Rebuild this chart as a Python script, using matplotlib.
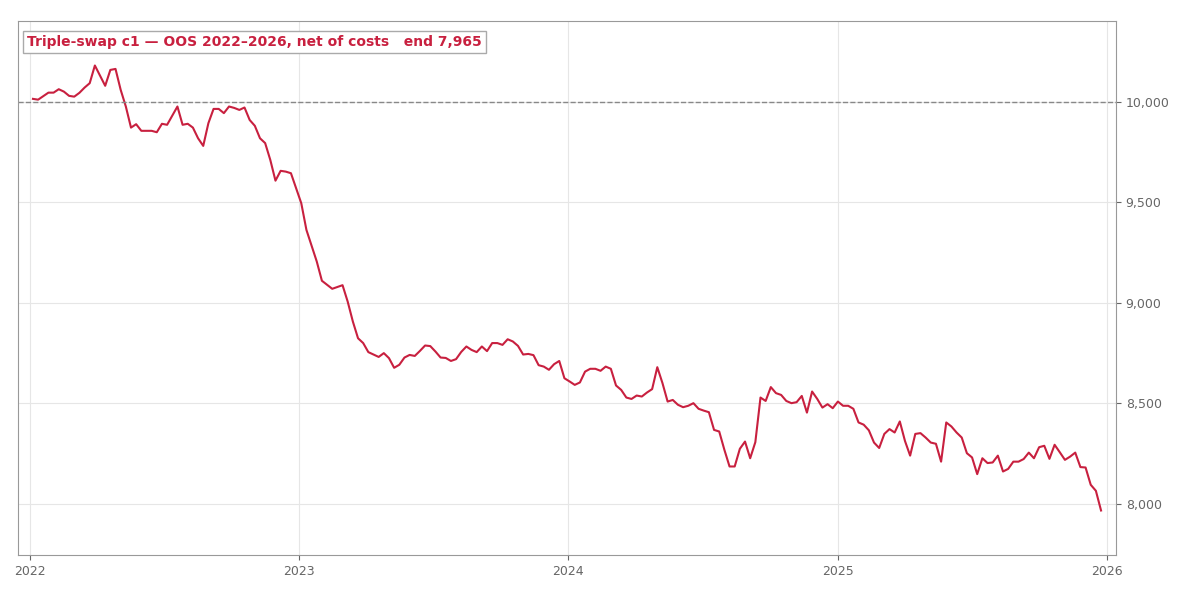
import numpy as np
import pandas as pd
import matplotlib
matplotlib.use('Agg')
import matplotlib.pyplot as plt
import matplotlib.ticker as mticker

# weekly series, weeks counted from the first OOS point
start = pd.Timestamp("2022-01-05")
week = [0, 1, 3, 4, 5, 6, 7, 8, 9, 10, 11, 12, 14, 15, 16, 17, 18, 19, 20, 21,
        23, 24, 25, 26, 28, 29, 30, 31, 32, 33, 34, 35, 36, 37, 38, 39, 40, 41, 42, 43,
        44, 45, 46, 47, 48, 49, 50, 52, 53, 55, 56, 58, 60, 61, 62, 63, 64, 65, 67, 68,
        69, 70, 71, 72, 73, 74, 75, 76, 77, 78, 79, 80, 81, 82, 83, 84, 85, 86, 87, 88,
        89, 90, 91, 92, 93, 94, 95, 96, 97, 98, 99, 100, 101, 102, 103, 104, 105, 106, 107, 108,
        109, 110, 111, 112, 113, 114, 115, 116, 117, 118, 119, 120, 121, 122, 123, 124, 125, 126, 127, 128,
        129, 130, 131, 132, 133, 134, 135, 136, 137, 138, 139, 140, 141, 142, 143, 144, 145, 146, 147, 148,
        149, 150, 151, 152, 153, 154, 155, 156, 157, 158, 159, 160, 161, 162, 163, 164, 165, 166, 167, 168,
        169, 170, 171, 172, 173, 174, 175, 176, 177, 178, 179, 180, 181, 182, 183, 184, 185, 186, 187, 188,
        189, 190, 191, 192, 193, 194, 195, 196, 197, 198, 199, 200, 201, 202, 203, 204, 205, 206, 207]
equity = [10015, 10011, 10046, 10046, 10063, 10051, 10030, 10026, 10045, 10071, 10093, 10181, 10080, 10159, 10164, 10060, 9977, 9872, 9889, 9856,
          9856, 9849, 9891, 9886, 9977, 9886, 9891, 9872, 9819, 9781, 9894, 9965, 9965, 9944, 9977, 9970, 9960, 9972, 9910, 9881,
          9819, 9795, 9711, 9608, 9657, 9653, 9645, 9496, 9363, 9206, 9110, 9070, 9088, 9006, 8907, 8824, 8800, 8755, 8731, 8750,
          8725, 8677, 8692, 8728, 8741, 8736, 8761, 8788, 8785, 8758, 8728, 8726, 8711, 8720, 8756, 8783, 8766, 8755, 8783, 8760,
          8800, 8800, 8791, 8819, 8808, 8786, 8743, 8746, 8740, 8690, 8683, 8667, 8695, 8711, 8625, 8609, 8592, 8604, 8658, 8672,
          8672, 8662, 8683, 8672, 8589, 8567, 8529, 8522, 8539, 8534, 8554, 8571, 8680, 8601, 8509, 8517, 8493, 8481, 8488, 8501,
          8473, 8464, 8456, 8368, 8360, 8269, 8186, 8186, 8274, 8310, 8227, 8307, 8529, 8512, 8581, 8551, 8542, 8512, 8501, 8506,
          8537, 8454, 8559, 8522, 8479, 8496, 8476, 8509, 8488, 8488, 8473, 8405, 8394, 8366, 8305, 8278, 8348, 8372, 8355, 8410,
          8313, 8240, 8348, 8352, 8330, 8305, 8299, 8210, 8405, 8385, 8355, 8330, 8252, 8231, 8148, 8227, 8203, 8206, 8240, 8161,
          8174, 8210, 8210, 8223, 8255, 8227, 8282, 8289, 8224, 8294, 8257, 8219, 8235, 8255, 8183, 8181, 8095, 8065, 7967]
start_equity = 10000
title = "Triple-swap c1 \u2014 OOS 2022\u20132026, net of costs   end 7,965"

dates = start + pd.to_timedelta(np.array(week) * 7, unit="D")
red = "#C8203F"
grey = "#666666"

fig = plt.figure(figsize=(12, 6), dpi=100)
ax = fig.add_axes([0.015, 0.075, 0.915, 0.89])

ax.plot(dates, equity, color=red, lw=1.5)
ax.axhline(start_equity, color="#888888", lw=1, ls="--")
ax.margins(x=0.014, y=0.1)

ax.yaxis.tick_right()
ax.yaxis.set_major_locator(mticker.MultipleLocator(500))
ax.yaxis.set_major_formatter(mticker.FuncFormatter(lambda v, p: f"{v:,.0f}"))
ax.xaxis.set_major_locator(matplotlib.dates.YearLocator())
ax.xaxis.set_major_formatter(matplotlib.dates.DateFormatter("%Y"))

ax.grid(True, color="#e6e6e6", lw=0.8)
ax.set_axisbelow(True)
for s in ax.spines.values():
    s.set_color("#999999")
ax.tick_params(colors=grey, labelsize=9, length=3.5)

ax.text(0.008, 0.974, title, transform=ax.transAxes, ha="left", va="top",
        fontsize=10, fontweight="bold", color=red,
        bbox=dict(boxstyle="square,pad=0.3", fc="white", ec="#aaaaaa", lw=1))

fig.savefig("out.png", dpi=100)
